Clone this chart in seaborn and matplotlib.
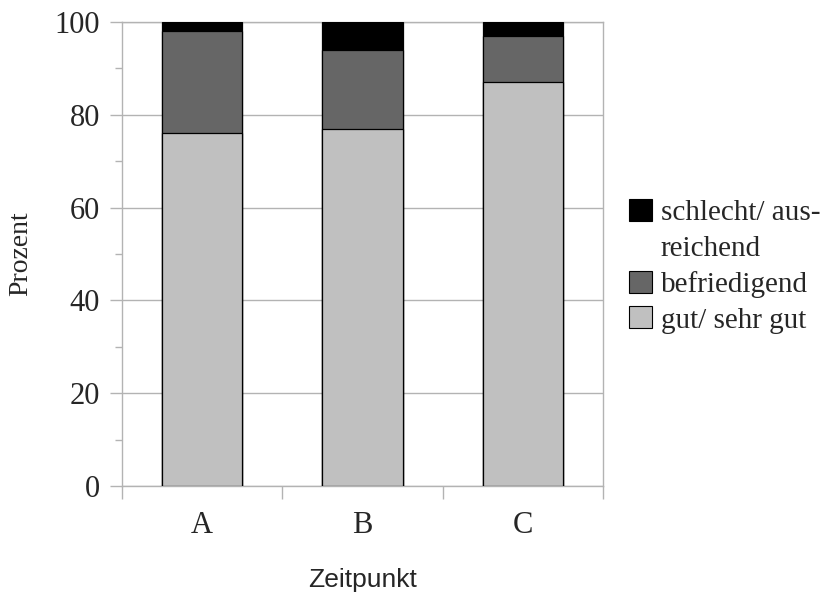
import pandas as pd
import matplotlib
matplotlib.use("Agg")
import matplotlib.pyplot as plt
import seaborn as sns
from matplotlib.patches import Patch
from matplotlib.ticker import MultipleLocator, FixedLocator

# daten
zeitpunkt = ["A", "B", "C"]
gut_sehr_gut = [76, 77, 87]
befriedigend = [22, 17, 10]
schlecht_ausreichend = [2, 6, 3]

labels = ["schlecht/ aus-\nreichend", "befriedigend", "gut/ sehr gut"]
farben = ["#000000", "#666666", "#c0c0c0"]

df = pd.DataFrame({
    "Zeitpunkt": zeitpunkt,
    "gut": gut_sehr_gut,
    "befr": befriedigend,
    "schlecht": schlecht_ausreichend,
})
df["stufe1"] = df["gut"]
df["stufe2"] = df["gut"] + df["befr"]
df["stufe3"] = df["stufe2"] + df["schlecht"]

sns.set_theme(style="white")
plt.rcParams["font.family"] = ["Liberation Serif", "DejaVu Serif"]
grau = "#b3b3b3"

fig = plt.figure(figsize=(8.29, 5.99), dpi=100)
ax = fig.add_axes([0.1472, 0.1886, 0.5802, 0.7746])

# gestapelte balken: von oben nach unten zeichnen
for spalte, farbe in zip(["stufe3", "stufe2", "stufe1"], farben):
    sns.barplot(
        data=df,
        x="Zeitpunkt",
        y=spalte,
        color=farbe,
        width=0.5,
        edgecolor="black",
        linewidth=0.9,
        saturation=1,
        errorbar=None,
        ax=ax,
        zorder=3
    )

ax.set_xlim(-0.5, 2.5)
ax.set_ylim(0, 100)

ax.yaxis.set_major_locator(MultipleLocator(20))
ax.yaxis.set_minor_locator(MultipleLocator(10))
ax.xaxis.set_minor_locator(FixedLocator([-0.5, 0.5, 1.5, 2.5]))

ax.grid(axis="y", which="major", color=grau, linewidth=1, zorder=0)
ax.set_axisbelow(True)
for s in ax.spines.values():
    s.set_color(grau)
    s.set_linewidth(1)

ax.tick_params(axis="y", which="major", direction="out", length=9,
               width=1, color=grau, labelsize=22, pad=7, left=True)
ax.tick_params(axis="y", which="minor", direction="out", length=5,
               width=1, color=grau, left=True)
ax.tick_params(axis="x", which="major", length=0, labelsize=22, pad=18)
ax.tick_params(axis="x", which="minor", direction="out", length=9,
               width=1, color=grau, bottom=True)

ax.set_ylabel("Prozent", fontsize=20, labelpad=15)
ax.set_xlabel("Zeitpunkt", fontsize=19, labelpad=20,
              family=["Liberation Sans", "DejaVu Sans"])

handles = [
    Patch(facecolor=farben[0], edgecolor="black", linewidth=0.8),
    Patch(facecolor="none", edgecolor="none"),
    Patch(facecolor=farben[1], edgecolor="black", linewidth=0.8),
    Patch(facecolor=farben[2], edgecolor="black", linewidth=0.8),
]
leg_labels = ["schlecht/ aus-", "reichend", labels[1], labels[2]]
fig.legend(
    handles, leg_labels,
    loc="upper left",
    bbox_to_anchor=(0.759, 0.668),
    frameon=False,
    fontsize=21,
    borderpad=0,
    borderaxespad=0,
    handlelength=0.78,
    handleheight=0.78,
    handletextpad=0.3,
    labelspacing=0.3
)

fig.savefig("out.png", dpi=100)
